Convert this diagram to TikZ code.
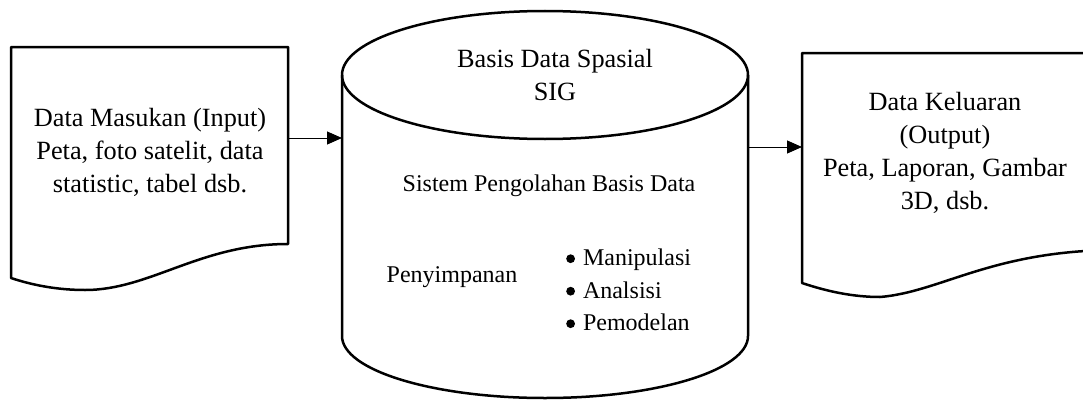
\documentclass[tikz,border=0pt]{standalone}
\usepackage{fontspec}
\setmainfont{Liberation Serif}
\usetikzlibrary{arrows.meta}
\tikzset{
  shapeline/.style={line width=2.5pt, line join=round},
  flow/.style={line width=1pt, -{Triangle[length=15pt,width=13pt]}},
  bigtext/.style={align=center, inner sep=0pt, font=\fontsize{26.3}{33}\selectfont},
  smalltext/.style={inner sep=0pt, font=\fontsize{24}{32.5}\selectfont},
}
% round list marker, centred a little above the baseline
\newcommand{\dotmark}{\tikz[baseline={(0,-7pt)}]\fill (0,0) circle[radius=4.4pt];\hspace{8pt}}
\begin{document}
\begin{tikzpicture}[x=1pt,y=1pt]
  \useasboundingbox (0,0) rectangle (1083,400);
  \clip (0,0) rectangle (1083,400);

  % input document
  \draw[shapeline] (11,353) -- (11,122)
    .. controls (35,114) and (60,110) .. (85,110)
    .. controls (150,110) and (200,156) .. (288,156)
    -- (288,353) -- cycle;
  \node[bigtext] (input) at (150,248)
    {Data Masukan (Input)\\Peta, foto satelit, data\\statistic, tabel dsb.};

  % spatial database cylinder
  \draw[shapeline] (342,325) -- (342,64)
    arc[start angle=180, end angle=360, x radius=203pt, y radius=62pt]
    -- (748,325);
  \draw[shapeline] (545,325) ellipse[x radius=203pt, y radius=64pt];
  \node[bigtext] (db) at (555,325) {Basis Data Spasial\\SIG};
  \node[smalltext] (proc) at (549,214) {Sistem Pengolahan Basis Data};
  \node[smalltext] (store) at (452,123) {Penyimpanan};
  \node[smalltext, align=left, anchor=west] (ops) at (566,110)
    {\dotmark Manipulasi\\\dotmark Analsisi\\\dotmark Pemodelan};

  % output document
  \draw[shapeline] (1110,347) -- (802,347) -- (802,117)
    .. controls (826,109) and (852,103) .. (880,103)
    .. controls (940,108) and (990,148) .. (1110,150);
  \node[bigtext] (output) at (945,247)
    {Data Keluaran\\(Output)\\Peta, Laporan, Gambar\\3D, dsb.};

  % connectors
  \coordinate (inE) at (288,262);
  \coordinate (cylW) at (342,262);
  \coordinate (cylE) at (748,253);
  \coordinate (outW) at (802,253);
  \draw[flow] (inE) -- (cylW);
  \draw[flow] (cylE) -- (outW);
\end{tikzpicture}
\end{document}
